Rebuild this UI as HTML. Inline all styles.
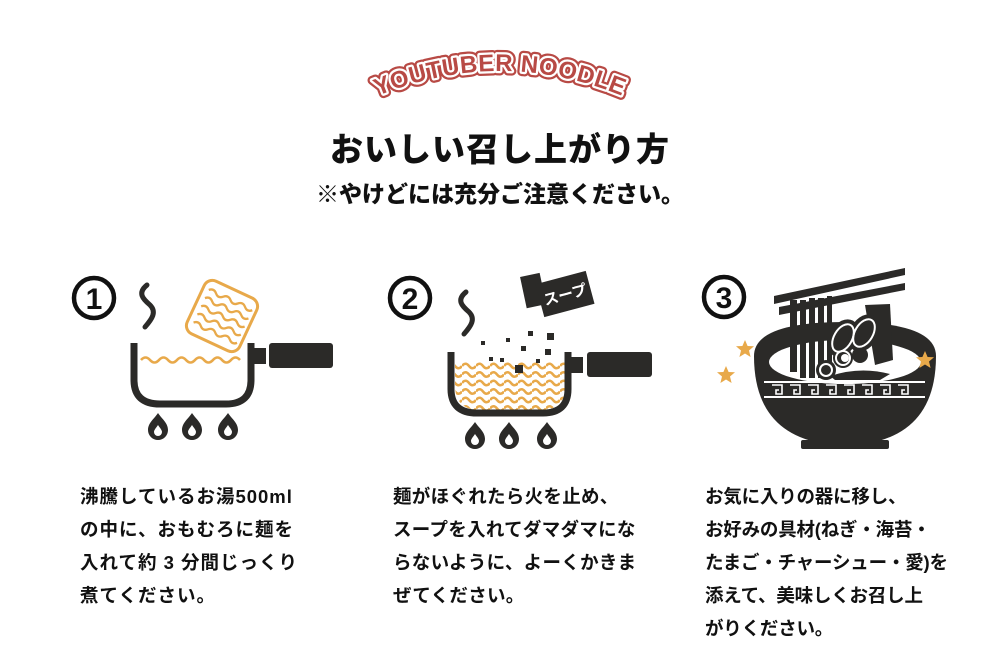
<!DOCTYPE html>
<html><head><meta charset="utf-8"><style>
body{margin:0;background:#fff;width:1000px;height:664px;overflow:hidden;position:relative;font-family:"Liberation Sans","Noto Sans CJK JP",sans-serif;}
.t{position:absolute;font-weight:900;color:#111;}
.p{position:absolute;font-weight:bold;font-size:18.5px;line-height:33px;color:#111;letter-spacing:1px}
</style></head><body>
<svg width="1000" height="664" style="position:absolute;left:0;top:0">
<defs>
<path id="arc" d="M368,100 Q500,42 632,100"/>
<pattern id="wv" width="14" height="8.5" patternUnits="userSpaceOnUse" y="362">
<path d="M0 4 q3.5 -4.5 7 0 t7 0" fill="none" stroke="#e8a94a" stroke-width="2.6"/>
</pattern>
<clipPath id="c2"><path d="M455 362 H566 V385 Q566 410 540 410 H480 Q455 410 455 385Z"/></clipPath>
<path id="fl" d="M0 -12 C-4 -6 -10 -2 -10 5 A10 10 0 0 0 10 5 C10 -2 4 -6 0 -12Z M0 0 C-2 3 -4 5 -4 7 A4 4 0 0 0 4 7 C4 5 2 3 0 0Z"/>
<path id="st" d="M0 0 C-10 8 -4 14 3 20 C10 27 5 34 -2 42" fill="none" stroke="#2b2a28" stroke-width="5" stroke-linecap="round"/>
<path id="star" d="M0 -9 L2.6 -3 9 -2.8 4 1.5 5.6 8 0 4.5 -5.6 8 -4 1.5 -9 -2.8 -2.6 -3Z" fill="#e8a94a"/>
</defs>
<g font-family="Liberation Sans" font-weight="bold" font-size="24" text-anchor="middle" letter-spacing="0.5">
<text stroke="#b84a45" stroke-width="9" stroke-linejoin="round" fill="#b84a45"><textPath href="#arc" startOffset="50%">YOUTUBER NOODLE</textPath></text>
<text stroke="#fff" stroke-width="4.5" stroke-linejoin="round" fill="#b84a45"><textPath href="#arc" startOffset="50%">YOUTUBER NOODLE</textPath></text>
<text fill="#b84a45"><textPath href="#arc" startOffset="50%">YOUTUBER NOODLE</textPath></text>
</g>
<g fill="none" stroke="#111" stroke-width="4.5"><circle cx="94" cy="298" r="20"/><circle cx="410" cy="298" r="20"/><circle cx="724" cy="297" r="20"/></g>
<g font-family="Liberation Sans" font-weight="bold" font-size="30" text-anchor="middle" fill="#111">
<text x="94" y="309">1</text><text x="410" y="309">2</text><text x="724" y="308">3</text></g>
<path d="M134 343 V380 Q134 404 160 404 H226 Q251 404 251 380 V343" fill="none" stroke="#2b2a28" stroke-width="7"/>
<rect x="251" y="348" width="15" height="16" fill="#2b2a28"/>
<rect x="269" y="343" width="64" height="25" rx="3" fill="#2b2a28"/>
<path d="M141 360 q4.5 -5 9 0 t9 0 t9 0 t9 0 t9 0 t9 0 t9 0 t9 0 t9 0 t9 0 t9 0" fill="none" stroke="#e8a94a" stroke-width="2.6"/>
<g transform="translate(222 316) rotate(25)"><rect x="-29" y="-29" width="58" height="58" rx="9" fill="#fff" stroke="#e8a94a" stroke-width="3"/>
<g fill="none" stroke="#e8a94a" stroke-width="2.3"><path d="M-23 -18 q4 -4 8 0 t8 0 t8 0 t8 0 t8 0 t8 0"/><path d="M-23 -9 q4 -4 8 0 t8 0 t8 0 t8 0 t8 0 t8 0"/><path d="M-23 0 q4 -4 8 0 t8 0 t8 0 t8 0 t8 0 t8 0"/><path d="M-23 9 q4 -4 8 0 t8 0 t8 0 t8 0 t8 0 t8 0"/><path d="M-23 18 q4 -4 8 0 t8 0 t8 0 t8 0 t8 0 t8 0"/></g></g>
<use href="#st" x="147" y="285"/>
<g fill="#2b2a28" fill-rule="evenodd"><use href="#fl" x="158" y="425"/><use href="#fl" x="192" y="425"/><use href="#fl" x="228" y="425"/></g>
<rect x="452" y="360" width="118" height="52" fill="url(#wv)" clip-path="url(#c2)"/>
<path d="M451 352 V389 Q451 413 477 413 H543 Q568 413 568 389 V352" fill="none" stroke="#2b2a28" stroke-width="7"/>
<rect x="568" y="357" width="15" height="16" fill="#2b2a28"/>
<rect x="587" y="352" width="65" height="25" rx="3" fill="#2b2a28"/>
<use href="#st" x="466" y="292"/>
<g fill="#2b2a28" fill-rule="evenodd"><use href="#fl" x="475" y="434"/><use href="#fl" x="509" y="434"/><use href="#fl" x="547" y="434"/></g>
<g transform="translate(531 290) rotate(-12)"><rect x="-8" y="-15" width="20" height="32" fill="#2b2a28"/></g>
<g transform="translate(565 294) rotate(-15)"><rect x="-26" y="-17" width="52" height="34" fill="#2b2a28"/><text x="0" y="6" font-size="15" font-weight="bold" fill="#fff" text-anchor="middle" font-family="Noto Sans CJK JP,sans-serif">スープ</text></g>
<g fill="#2b2a28"><rect x="481" y="341" width="4" height="4"/><rect x="506" y="338" width="4" height="4"/><rect x="489" y="357" width="4" height="4"/><rect x="500" y="358" width="4" height="4"/><rect x="521" y="346" width="5" height="5"/><rect x="528" y="331" width="5" height="5"/><rect x="547" y="333" width="7" height="7"/><rect x="545" y="349" width="6" height="6"/><rect x="536" y="359" width="4" height="4"/><rect x="515" y="365" width="8" height="8"/></g>
<g fill="#2b2a28">
<path d="M754 356 Q754 322 845 322 Q936 322 936 356 Q936 430 870 443 H820 Q754 430 754 356Z"/>
<rect x="801" y="440" width="88" height="9" rx="2"/>
<ellipse cx="845" cy="362" rx="76" ry="22" fill="#fff"/>
<path d="M774 296 L905 268 L905 275 L774 304Z M779 307 L905 283 L905 290 L779 315Z"/>
<rect x="790" y="300" width="7" height="72"/><rect x="800" y="300" width="6" height="78"/><rect x="809" y="298" width="6" height="80"/><rect x="818" y="298" width="6" height="80"/><rect x="827" y="296" width="5" height="78"/>
<path d="M865 305 L890 304 L893 360 L875 365Z"/>
<ellipse cx="843" cy="338" rx="14" ry="20" transform="rotate(30 843 338)"/>
<ellipse cx="864" cy="333" rx="14" ry="20" transform="rotate(30 864 333)"/>
<circle cx="843" cy="358" r="10"/><circle cx="860" cy="355" r="8"/>
<circle cx="826" cy="370" r="10"/>
<path d="M830 376 Q860 366 890 374 L880 380 H835Z"/>
</g>
<g fill="none" stroke="#fff" stroke-width="2"><ellipse cx="843" cy="338" rx="9" ry="15" transform="rotate(30 843 338)"/><ellipse cx="864" cy="333" rx="9" ry="15" transform="rotate(30 864 333)"/><circle cx="843" cy="358" r="7"/><circle cx="826" cy="370" r="6"/>
<path d="M764 382 H925 M764 397 H925"/></g>
<circle cx="845" cy="358" r="4" fill="#fff"/>
<g fill="none" stroke="#fff" stroke-width="1.6"><path d="M772 385 h10 v9 h-6 v-4 h3 M790 385 h10 v9 h-6 v-4 h3 M808 385 h10 v9 h-6 v-4 h3 M826 385 h10 v9 h-6 v-4 h3 M844 385 h10 v9 h-6 v-4 h3 M862 385 h10 v9 h-6 v-4 h3 M880 385 h10 v9 h-6 v-4 h3 M898 385 h10 v9 h-6 v-4 h3"/></g>
<use href="#star" x="745" y="349"/><use href="#star" x="726" y="375"/><use href="#star" x="925" y="360"/>
</svg>
<div class="t" style="left:0;width:1000px;text-align:center;top:123px;font-size:33px;letter-spacing:1px">おいしい召し上がり方</div>
<div class="t" style="left:0;width:1000px;text-align:center;top:175px;font-size:23px">※やけどには充分ご注意ください。</div>
<div class="p" style="left:80px;top:480px">沸騰しているお湯500ml<br>の中に、おもむろに麺を<br>入れて約 3 分間じっくり<br>煮てください。</div>
<div class="p" style="left:393px;top:480px;letter-spacing:0.3px">麺がほぐれたら火を止め、<br>スープを入れてダマダマにな<br>らないように、よーくかきま<br>ぜてください。</div>
<div class="p" style="left:705px;top:480px;letter-spacing:-0.2px">お気に入りの器に移し、<br>お好みの具材(ねぎ・海苔・<br>たまご・チャーシュー・愛)を<br>添えて、美味しくお召し上<br>がりください。</div>
</body></html>
